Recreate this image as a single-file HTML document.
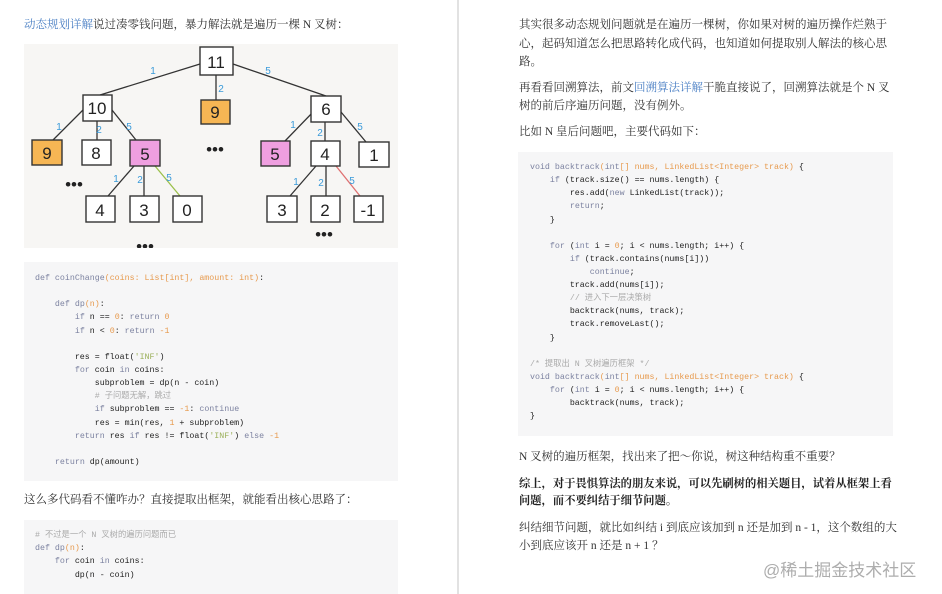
<!DOCTYPE html>
<html><head><meta charset="utf-8"><style>
*{margin:0;padding:0}
body{width:942px;height:594px;background:#fff;position:relative;overflow:hidden;font-family:"Liberation Serif","Noto Serif CJK SC",serif;color:#333}
.t{position:absolute;white-space:nowrap;font-size:11.5px;line-height:18px}
.b{font-weight:bold;color:#222;font-size:11.3px}
a{color:#4a7fc4;text-decoration:none}
.code{position:absolute;background:#f6f6f7}
.ln{position:absolute;white-space:pre;font-family:"Liberation Mono","Noto Sans CJK SC",monospace;font-size:8.3px;line-height:10px;color:#222}
.k{color:#7c82a0}.o{color:#e79a4e}.c{color:#aaa}.g{color:#9bb05a}
</style></head><body>
<div style="position:absolute;left:457px;top:0;width:2px;height:594px;background:#e2e2e2"></div>

<div class="t" style="left:24px;top:16px"><a>动态规划详解</a>说过凑零钱问题，暴力解法就是遍历一棵 N 叉树：</div>

<svg style="position:absolute;left:24px;top:44px" width="374" height="204" viewBox="24 44 374 204">
<rect x="24" y="44" width="374" height="204" fill="#f7f6f4"/>
<g stroke="#333" stroke-width="1.3">
<line x1="200" y1="64" x2="100" y2="95"/><line x1="216" y1="75" x2="216" y2="100"/><line x1="233" y1="64" x2="326" y2="96"/>
<line x1="85" y1="108" x2="53" y2="140"/><line x1="97" y1="121" x2="97" y2="140"/><line x1="112" y1="110" x2="136" y2="140"/>
<line x1="134" y1="166" x2="108" y2="196"/><line x1="144" y1="166" x2="144" y2="196"/>
<line x1="315" y1="110" x2="285" y2="141"/><line x1="325" y1="122" x2="325" y2="141"/><line x1="341" y1="112" x2="366" y2="142"/>
<line x1="316" y1="166" x2="290" y2="196"/><line x1="326" y1="166" x2="326" y2="196"/>
</g>
<line x1="155" y1="166" x2="180" y2="196" stroke="#9bc04a" stroke-width="1.3"/>
<line x1="336" y1="166" x2="360" y2="196" stroke="#e07070" stroke-width="1.3"/>
<g stroke="#333" stroke-width="1.4" fill="#fff">
<rect x="200" y="47" width="33" height="28"/><rect x="83" y="95" width="29" height="26"/>
<rect x="201" y="100" width="29" height="24" fill="#f6b654"/><rect x="311" y="96" width="30" height="26"/>
<rect x="32" y="140" width="30" height="25" fill="#f6b654"/><rect x="82" y="140" width="29" height="25"/>
<rect x="130" y="140" width="30" height="26" fill="#ef9fe0"/><rect x="261" y="141" width="29" height="25" fill="#ef9fe0"/>
<rect x="311" y="141" width="29" height="25"/><rect x="359" y="142" width="30" height="25"/>
<rect x="86" y="196" width="29" height="26"/><rect x="130" y="196" width="29" height="26"/><rect x="173" y="196" width="29" height="26"/>
<rect x="267" y="196" width="30" height="26"/><rect x="311" y="196" width="29" height="26"/><rect x="354" y="196" width="29" height="26"/>
</g>
<g font-family="Liberation Sans,sans-serif" font-size="17" fill="#222" text-anchor="middle">
<text x="216" y="68">11</text><text x="97" y="114">10</text><text x="215" y="118">9</text><text x="326" y="115">6</text>
<text x="47" y="159">9</text><text x="96" y="159">8</text><text x="145" y="160">5</text><text x="275" y="160">5</text>
<text x="325" y="160">4</text><text x="374" y="161">1</text>
<text x="100" y="216">4</text><text x="144" y="216">3</text><text x="187" y="216">0</text>
<text x="282" y="216">3</text><text x="325" y="216">2</text><text x="368" y="216">-1</text>
<text x="215" y="155">•••</text><text x="74" y="190">•••</text><text x="145" y="252">•••</text><text x="324" y="240">•••</text>
</g>
<g font-family="Liberation Sans,sans-serif" font-size="10" fill="#3a9ad9" text-anchor="middle">
<text x="153" y="74">1</text><text x="221" y="92">2</text><text x="268" y="74">5</text>
<text x="59" y="130">1</text><text x="99" y="133">2</text><text x="129" y="130">5</text>
<text x="116" y="182">1</text><text x="140" y="183">2</text><text x="169" y="181">5</text>
<text x="293" y="128">1</text><text x="320" y="136">2</text><text x="360" y="130">5</text>
<text x="296" y="185">1</text><text x="321" y="186">2</text><text x="352" y="184">5</text>
</g>
</svg>

<div class="code" style="left:24px;top:262px;width:374px;height:219px"></div>
<div class="ln" style="left:35px;top:274px"><span class="k">def</span> <span class="k">coinChange</span><span class="o">(coins: List[int], amount: int)</span>:</div>
<div class="ln" style="left:35px;top:300px">    <span class="k">def</span> <span class="k">dp</span><span class="o">(n)</span>:</div>
<div class="ln" style="left:35px;top:313px">        <span class="k">if</span> n == <span class="o">0</span>: <span class="k">return</span> <span class="o">0</span></div>
<div class="ln" style="left:35px;top:327px">        <span class="k">if</span> n &lt; <span class="o">0</span>: <span class="k">return</span> <span class="o">-1</span></div>
<div class="ln" style="left:35px;top:353px">        res = float(<span class="g">'INF'</span>)</div>
<div class="ln" style="left:35px;top:366px">        <span class="k">for</span> coin <span class="k">in</span> coins:</div>
<div class="ln" style="left:35px;top:379px">            subproblem = dp(n - coin)</div>
<div class="ln" style="left:35px;top:392px">            <span class="c"># 子问题无解，跳过</span></div>
<div class="ln" style="left:35px;top:405px">            <span class="k">if</span> subproblem == <span class="o">-1</span>: <span class="k">continue</span></div>
<div class="ln" style="left:35px;top:419px">            res = min(res, <span class="o">1</span> + subproblem)</div>
<div class="ln" style="left:35px;top:432px">        <span class="k">return</span> res <span class="k">if</span> res != float(<span class="g">'INF'</span>) <span class="k">else</span> <span class="o">-1</span></div>
<div class="ln" style="left:35px;top:458px">    <span class="k">return</span> dp(amount)</div>

<div class="t" style="left:24px;top:491px">这么多代码看不懂咋办？直接提取出框架，就能看出核心思路了：</div>

<div class="code" style="left:24px;top:520px;width:374px;height:74px"></div>
<div class="ln" style="left:35px;top:531px"><span class="c"># 不过是一个 N 叉树的遍历问题而已</span></div>
<div class="ln" style="left:35px;top:544px"><span class="k">def</span> <span class="k">dp</span><span class="o">(n)</span>:</div>
<div class="ln" style="left:35px;top:557px">    <span class="k">for</span> coin <span class="k">in</span> coins:</div>
<div class="ln" style="left:35px;top:571px">        dp(n - coin)</div>

<div class="t" style="left:519px;top:16px">其实很多动态规划问题就是在遍历一棵树，你如果对树的遍历操作烂熟于</div>
<div class="t" style="left:519px;top:35px">心，起码知道怎么把思路转化成代码，也知道如何提取别人解法的核心思</div>
<div class="t" style="left:519px;top:53px">路。</div>
<div class="t" style="left:519px;top:79px">再看看回溯算法，前文<a>回溯算法详解</a>干脆直接说了，回溯算法就是个 N 叉</div>
<div class="t" style="left:519px;top:97px">树的前后序遍历问题，没有例外。</div>
<div class="t" style="left:519px;top:123px">比如 N 皇后问题吧，主要代码如下：</div>

<div class="code" style="left:518px;top:152px;width:375px;height:284px"></div>
<div class="ln" style="left:530px;top:163px"><span class="k">void</span> <span class="k">backtrack</span><span class="o">(</span><span class="k">int</span><span class="o">[] nums, LinkedList&lt;Integer&gt; track)</span> {</div>
<div class="ln" style="left:530px;top:176px">    <span class="k">if</span> (track.size() == nums.length) {</div>
<div class="ln" style="left:530px;top:189px">        res.add(<span class="k">new</span> LinkedList(track));</div>
<div class="ln" style="left:530px;top:202px">        <span class="k">return</span>;</div>
<div class="ln" style="left:530px;top:216px">    }</div>
<div class="ln" style="left:530px;top:242px">    <span class="k">for</span> (<span class="k">int</span> i = <span class="o">0</span>; i &lt; nums.length; i++) {</div>
<div class="ln" style="left:530px;top:255px">        <span class="k">if</span> (track.contains(nums[i]))</div>
<div class="ln" style="left:530px;top:268px">            <span class="k">continue</span>;</div>
<div class="ln" style="left:530px;top:281px">        track.add(nums[i]);</div>
<div class="ln" style="left:530px;top:294px">        <span class="c">// 进入下一层决策树</span></div>
<div class="ln" style="left:530px;top:307px">        backtrack(nums, track);</div>
<div class="ln" style="left:530px;top:320px">        track.removeLast();</div>
<div class="ln" style="left:530px;top:334px">    }</div>
<div class="ln" style="left:530px;top:360px"><span class="c">/* 提取出 N 叉树遍历框架 */</span></div>
<div class="ln" style="left:530px;top:373px"><span class="k">void</span> <span class="k">backtrack</span><span class="o">(</span><span class="k">int</span><span class="o">[] nums, LinkedList&lt;Integer&gt; track)</span> {</div>
<div class="ln" style="left:530px;top:386px">    <span class="k">for</span> (<span class="k">int</span> i = <span class="o">0</span>; i &lt; nums.length; i++) {</div>
<div class="ln" style="left:530px;top:399px">        backtrack(nums, track);</div>
<div class="ln" style="left:530px;top:412px">}</div>

<div class="t" style="left:519px;top:448px">N 叉树的遍历框架，找出来了把～你说，树这种结构重不重要？</div>
<div class="t b" style="left:519px;top:475px">综上，对于畏惧算法的朋友来说，可以先刷树的相关题目，试着从框架上看</div>
<div class="t b" style="left:519px;top:492px">问题，而不要纠结于细节问题。</div>
<div class="t" style="left:519px;top:519px">纠结细节问题，就比如纠结 i 到底应该加到 n 还是加到 n - 1，这个数组的大</div>
<div class="t" style="left:519px;top:537px">小到底应该开 n 还是 n + 1 ？</div>

<div style="position:absolute;left:763px;top:556px;white-space:nowrap;font-family:'Liberation Sans','Noto Sans CJK SC',sans-serif;font-size:17px;color:#adadad">@稀土掘金技术社区</div>
</body></html>
